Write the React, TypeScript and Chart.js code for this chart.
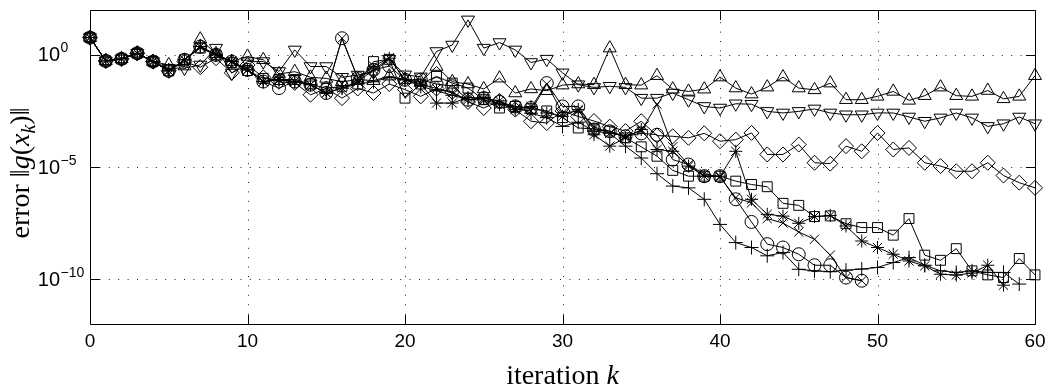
import React, { useEffect, useRef } from 'react';
import { Chart, registerables } from 'chart.js';

Chart.register(...registerables);

// iteration index k
const iterations = [
  0, 1, 2, 3, 4, 5, 6, 7, 8, 9, 10, 11, 12, 13, 14, 15, 16, 17, 18, 19, 20,
  21, 22, 23, 24, 25, 26, 27, 28, 29, 30, 31, 32, 33, 34, 35, 36, 37, 38, 39, 40,
  41, 42, 43, 44, 45, 46, 47, 48, 49, 50, 51, 52, 53, 54, 55, 56, 57, 58, 59, 60,
];

const xTickValues = [0, 10, 20, 30, 40, 50, 60];
const yTickExponents = [0, -5, -10];

// log10 of the error ||g(x_k)||, one list per marker
const triangleUpExp = [
  0.77, -0.27, -0.18, 0.07, -0.3, -0.45, -0.5, 0.7, 0.05, -0.3,
  -0.07, -0.22, -0.85, -0.75, -1.0, -1.05, -1.2, -1.1, -1.15, -0.95,
  -1.1, -1.2, -0.52, -1.2, -1.3, -1.52, -1.04, -1.7, -1.52, -1.6,
  -1.35, -1.3, -1.33, 0.3, -1.33, -1.35, -0.93, -1.53, -1.63, -1.53,
  -0.99, -1.48, -1.75, -1.44, -0.99, -1.48, -1.56, -1.26, -2.0, -2.0,
  -1.85, -1.63, -2.03, -1.82, -1.44, -1.82, -1.85, -1.59, -1.96, -1.85,
  -0.93,
];
const triangleDownExp = [
  0.77, -0.27, -0.18, 0.07, -0.3, -0.6, -0.59, -0.45, 0.3, -0.81,
  -0.3, -0.3, -0.74, 0.22, -0.52, -0.52, -1.0, -0.9, -0.75, -0.2,
  -0.89, -0.98, 0.15, 0.44, 1.56, 0.3, 0.55, 0.22, -0.34, -0.19,
  -0.8, -1.33, -1.45, -1.4, -1.45, -1.93, -1.93, -1.7, -2.0, -2.3,
  -2.37, -2.18, -2.2, -2.52, -2.59, -2.52, -2.41, -2.59, -2.67, -2.67,
  -2.59, -2.59, -2.77, -2.96, -2.81, -2.59, -2.81, -3.19, -3.07, -2.77,
  -3.07,
];
const diamondExp = [
  0.77, -0.27, -0.18, 0.07, -0.3, -0.71, -0.3, -0.55, -0.15, -0.8,
  -0.45, -1.0, -1.2, -1.25, -1.78, -1.5, -1.93, -1.5, -1.7, -1.3,
  -1.55, -1.85, -1.5, -1.65, -2.1, -2.37, -2.05, -2.44, -2.96, -3.04,
  -2.5, -2.75, -2.95, -3.2, -3.4, -2.96, -3.6, -3.63, -3.7, -3.5,
  -3.85, -3.78, -3.48, -4.44, -4.44, -4.0, -4.81, -4.85, -4.07, -4.3,
  -3.48, -4.22, -4.15, -4.81, -4.96, -5.19, -5.19, -4.81, -5.38, -5.7,
  -5.93,
];
const squareExp = [
  0.77, -0.27, -0.18, 0.07, -0.3, -0.71, -0.22, 0.3, 0.0, -0.35,
  -0.7, -1.05, -1.1, -1.1, -1.3, -1.5, -1.4, -1.3, -0.3, -0.2,
  -1.93, -1.3, -0.96, -1.26, -1.48, -2.0, -2.37, -2.3, -2.4, -2.5,
  -2.8, -3.26, -3.3, -3.4, -3.7, -4.1, -4.52, -5.15, -5.41, -5.41,
  -5.41, -5.63, -5.78, -5.88, -6.62, -6.71, -7.21, -7.18, -7.53, -7.7,
  -7.7, -8.04, -7.3, -8.93, -9.16, -8.64, -9.63, -9.81, -9.93, -9.08,
  -9.81,
];
const asteriskExp = [
  0.77, -0.27, -0.18, 0.07, -0.3, -0.71, -0.22, 0.37, 0.0, -0.3,
  -0.67, -1.19, -1.11, -1.19, -1.33, -1.7, -1.48, -1.2, -0.67, -0.15,
  -1.11, -1.3, -2.15, -2.15, -1.9, -1.93, -2.05, -2.44, -2.3, -2.59,
  -2.74, -2.44, -3.56, -4.07, -3.7, -3.33, -4.22, -4.3, -4.96, -5.41,
  -5.41, -4.3, -6.44, -7.11, -7.19, -7.51, -7.21, -7.16, -7.63, -8.3,
  -8.59, -8.89, -9.19, -9.41, -9.78, -9.82, -9.73, -9.38, -10.27,
];
const circleExp = [
  0.77, -0.27, -0.18, 0.07, -0.3, -0.71, -0.22, 0.37, 0.0, -0.3,
  -0.67, -1.19, -1.48, -1.19, -1.33, -1.7, 0.74, -1.04, -0.67, -0.5,
  -1.11, -1.11, -1.3, -1.4, -2.0, -1.93, -2.1, -2.3, -2.37, -1.26,
  -2.3, -2.3, -3.33, -3.41, -3.63, -3.5, -3.56, -4.67, -4.89, -5.41,
  -5.41, -6.44, -7.45, -8.44, -8.59, -8.89, -9.38, -9.38, -9.93, -10.07,
];
const crossExp = [
  0.77, -0.27, -0.18, 0.07, -0.3, -0.71, -0.22, 0.37, 0.0, -0.3,
  -0.67, -1.19, -1.11, -1.19, -1.33, -1.7, 0.74, -1.04, -0.5, -0.15,
  -1.11, -1.3, -1.5, -1.7, -2.0, -2.0, -2.2, -2.4, -2.5, -1.3,
  -2.6, -2.5, -3.2, -3.5, -3.6, -3.4, -2.2, -4.1, -4.9, -5.3,
  -5.45, -6.37, -6.6, -7.3, -7.5, -7.9, -8.22, -8.93, -9.93, -10.07,
];
const plusExp = [
  0.77, -0.27, -0.18, 0.07, -0.3, -0.71, -0.22, 0.37, 0.0, -0.3,
  -0.67, -1.19, -1.11, -1.19, -1.33, -1.7, -1.48, -1.3, -1.2, -1.0,
  -1.11, -1.4, -1.6, -1.8, -2.0, -1.9, -2.2, -2.3, -2.6, -2.8,
  -3.19, -3.0, -3.4, -3.5, -4.07, -4.6, -5.3, -5.85, -5.93, -6.44,
  -7.56, -8.37, -8.59, -8.96, -8.81, -9.56, -9.63, -9.67, -9.6, -9.55,
  -9.48, -9.26, -9.04, -9.38, -9.63, -9.7, -9.63, -9.7, -9.7, -10.22,
];

const SERIF = '"Liberation Serif", "DejaVu Serif", serif';
const SANS = '"Liberation Sans", Arial, sans-serif';

function toPoints(exps: number[]) {
  return exps.map((e, i) => ({ x: iterations[i], y: Math.pow(10, e) }));
}

function series(label: string, exps: number[], style: string, radius: number, rotation = 0) {
  return {
    label,
    data: toPoints(exps),
    borderColor: '#000',
    borderWidth: 1,
    backgroundColor: 'rgba(0,0,0,0)',
    pointStyle: style,
    pointRadius: radius,
    pointRotation: rotation,
    pointBorderColor: '#000',
    pointBackgroundColor: 'rgba(0,0,0,0)',
    pointBorderWidth: 1,
    fill: false,
    tension: 0,
    clip: false as const,
  };
}

const matlabAxes = {
  id: 'matlabAxes',
  beforeDatasetsDraw(chart: any) {
    const { ctx, chartArea: a, scales } = chart;
    const x = scales.x;
    const y = scales.y;
    ctx.save();
    ctx.strokeStyle = '#222';
    ctx.lineWidth = 1;
    ctx.setLineDash([1, 8.4]);
    for (const v of xTickValues) {
      if (v <= x.min || v >= x.max) continue;
      const px = Math.round(x.getPixelForValue(v)) + 0.5;
      ctx.beginPath();
      ctx.moveTo(px, a.bottom);
      ctx.lineTo(px, a.top);
      ctx.stroke();
    }
    for (const e of yTickExponents) {
      const py = Math.round(y.getPixelForValue(Math.pow(10, e))) + 0.5;
      ctx.beginPath();
      ctx.moveTo(a.left, py);
      ctx.lineTo(a.right, py);
      ctx.stroke();
    }
    ctx.restore();
  },
  afterDatasetsDraw(chart: any) {
    const { ctx, chartArea: a, scales } = chart;
    const x = scales.x;
    const y = scales.y;
    const L = Math.round(a.left) + 0.5;
    const R = Math.round(a.right) + 0.5;
    const T = Math.round(a.top) + 0.5;
    const B = Math.round(a.bottom) + 0.5;
    const tick = 9.5;
    ctx.save();
    ctx.strokeStyle = '#000';
    ctx.lineWidth = 1;
    ctx.setLineDash([]);
    ctx.beginPath();
    ctx.rect(L, T, R - L, B - T);
    for (const v of xTickValues) {
      const px = Math.round(x.getPixelForValue(v)) + 0.5;
      ctx.moveTo(px, B);
      ctx.lineTo(px, B - tick);
      ctx.moveTo(px, T);
      ctx.lineTo(px, T + tick);
    }
    for (const e of yTickExponents) {
      const py = Math.round(y.getPixelForValue(Math.pow(10, e))) + 0.5;
      ctx.moveTo(L, py);
      ctx.lineTo(L + tick, py);
      ctx.moveTo(R, py);
      ctx.lineTo(R - tick, py);
    }
    ctx.stroke();

    // y tick labels: 10 with raised exponent
    ctx.fillStyle = '#000';
    for (const e of yTickExponents) {
      const py = y.getPixelForValue(Math.pow(10, e));
      ctx.font = `20px ${SANS}`;
      ctx.textAlign = 'right';
      ctx.textBaseline = 'middle';
      ctx.fillText('10', a.left - 30, py + 1);
      ctx.font = `14px ${SANS}`;
      ctx.textAlign = 'left';
      ctx.textBaseline = 'alphabetic';
      const expText = e < 0 ? '\u2212' + String(-e) : String(e);
      ctx.fillText(expText, a.left - 29.5, py - 2.5);
    }

    // y axis title: error ||g(x_k)||
    const segs = [
      { t: 'error ', f: `28px ${SERIF}`, dy: 0 },
      { t: '\u2016', f: `28px ${SERIF}`, dy: 0 },
      { t: 'g', f: `italic 28px ${SERIF}`, dy: 0 },
      { t: '(', f: `28px ${SERIF}`, dy: 0 },
      { t: 'x', f: `italic 28px ${SERIF}`, dy: 0 },
      { t: 'k', f: `italic 20px ${SERIF}`, dy: 6 },
      { t: ')', f: `28px ${SERIF}`, dy: 0 },
      { t: '\u2016', f: `28px ${SERIF}`, dy: 0 },
    ];
    let total = 0;
    const widths = segs.map((s) => {
      ctx.font = s.f;
      const w = ctx.measureText(s.t).width;
      total += w;
      return w;
    });
    ctx.save();
    ctx.translate(29, (a.top + a.bottom) / 2 + 6);
    ctx.rotate(-Math.PI / 2);
    ctx.textAlign = 'left';
    ctx.textBaseline = 'alphabetic';
    let cx = -total / 2;
    segs.forEach((s, i) => {
      ctx.font = s.f;
      ctx.fillText(s.t, cx, s.dy);
      cx += widths[i];
    });
    ctx.restore();

    // x axis title: iteration k
    const xs = [
      { t: 'iteration ', f: `28px ${SERIF}` },
      { t: 'k', f: `italic 28px ${SERIF}` },
    ];
    let xt = 0;
    const xw = xs.map((s) => {
      ctx.font = s.f;
      const w = ctx.measureText(s.t).width;
      xt += w;
      return w;
    });
    let sx = (a.left + a.right) / 2 - xt / 2;
    ctx.textAlign = 'left';
    ctx.textBaseline = 'alphabetic';
    xs.forEach((s, i) => {
      ctx.font = s.f;
      ctx.fillText(s.t, sx, 384);
      sx += xw[i];
    });
    ctx.restore();
  },
};

export default function App() {
  const canvasRef = useRef<HTMLCanvasElement | null>(null);

  useEffect(() => {
    document.body.style.margin = '0';
    const canvas = canvasRef.current;
    if (!canvas) return;
    const chart = new Chart(canvas, {
      type: 'line',
      data: {
        datasets: [
          series('triangle up', triangleUpExp, 'triangle', 7.5),
          series('triangle down', triangleDownExp, 'triangle', 7.5, 180),
          series('diamond', diamondExp, 'rectRot', 7.5),
          series('square', squareExp, 'rect', 7),
          series('asterisk', asteriskExp, 'star', 6.5),
          series('circle', circleExp, 'circle', 6.5),
          series('cross', crossExp, 'crossRot', 6.5),
          series('plus', plusExp, 'cross', 7),
        ] as any,
      },
      options: {
        responsive: false,
        animation: false,
        devicePixelRatio: 1,
        layout: { padding: { left: 0, top: 10, right: 18, bottom: 0 } },
        plugins: {
          legend: { display: false },
          tooltip: { enabled: false },
          title: { display: false },
        },
        scales: {
          x: {
            type: 'linear',
            min: 0,
            max: 60,
            afterBuildTicks: (s: any) => {
              s.ticks = xTickValues.map((v) => ({ value: v }));
            },
            afterFit: (s: any) => {
              s.height = 63;
            },
            grid: { display: false, drawTicks: false },
            border: { display: false },
            ticks: {
              color: '#000',
              font: { family: SANS, size: 19 },
              padding: 6,
              maxRotation: 0,
              autoSkip: false,
            },
          },
          y: {
            type: 'logarithmic',
            min: 1e-12,
            max: 1e2,
            afterFit: (s: any) => {
              s.width = 90;
            },
            grid: { display: false, drawTicks: false },
            border: { display: false },
            ticks: { display: false },
          },
        },
      },
      plugins: [matlabAxes],
    });
    return () => chart.destroy();
  }, []);

  return (
    <div style={{ width: 1053, height: 387, background: '#fff' }}>
      <canvas ref={canvasRef} width={1053} height={387} style={{ display: 'block' }} />
    </div>
  );
}
